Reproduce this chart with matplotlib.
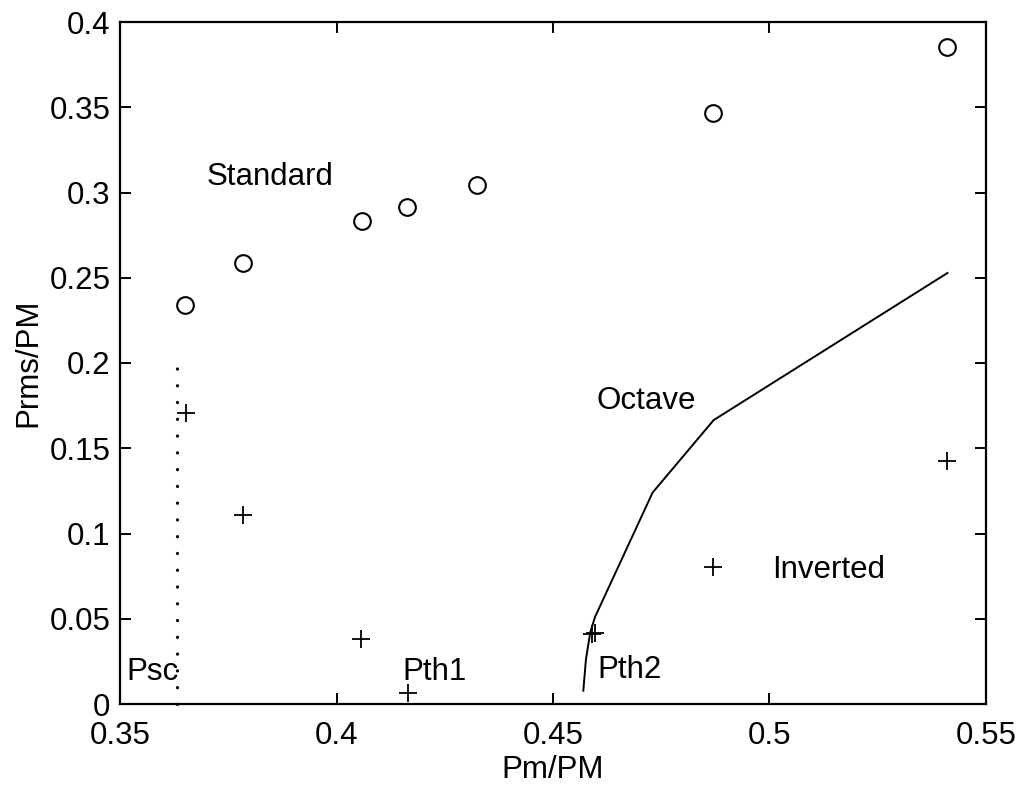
import matplotlib
matplotlib.use("Agg")
from matplotlib import pyplot as plt

plt.rcParams['font.family'] = ['Liberation Sans', 'DejaVu Sans']

# Standard (circles)
std_x = [0.3650, 0.3785, 0.4058, 0.4163, 0.4324, 0.4870, 0.5411]
std_y = [0.2343, 0.2589, 0.2833, 0.2915, 0.3044, 0.3466, 0.3853]

# Inverted (plus markers)
inv_x = [0.3652, 0.3785, 0.4057, 0.4164, 0.4589, 0.4597, 0.4870, 0.5411]
inv_y = [0.1704, 0.1108, 0.0381, 0.0063, 0.0410, 0.0415, 0.0805, 0.1424]

# Octave curve
oct_x = [0.4570, 0.4576, 0.4586, 0.4597, 0.4730, 0.4871, 0.5411]
oct_y = [0.0078, 0.0260, 0.0420, 0.0510, 0.1240, 0.1665, 0.2528]

# Psc threshold
psc_x = 0.3632
psc_y = [0.0, 0.2]

x_ticks = [0.35, 0.4, 0.45, 0.5, 0.55]
y_ticks = [0, 0.05, 0.1, 0.15, 0.2, 0.25, 0.3, 0.35, 0.4]

fig = plt.figure(figsize=(10.24, 7.89), dpi=100)
ax = fig.add_axes([120 / 1024, 85 / 789, 866 / 1024, 682 / 789])

ax.plot(std_x, std_y, 'o', markersize=12, markerfacecolor='none',
        markeredgecolor='black', markeredgewidth=1.5)
ax.plot(inv_x, inv_y, '+', markersize=13, color='black', markeredgewidth=1.3)
ax.plot(oct_x, oct_y, '-', color='black', linewidth=1.4)
ax.plot([psc_x, psc_x], psc_y, color='black', linewidth=2.3,
        dashes=(0.05, 5.2), dash_capstyle='round', clip_on=False)

fs = 22.5
ax.text(0.3700, 0.309, 'Standard', fontsize=fs, va='center')
ax.text(0.4601, 0.178, 'Octave', fontsize=fs, va='center')
ax.text(0.5005, 0.0785, 'Inverted', fontsize=fs, va='center')
ax.text(0.3514, 0.019, 'Psc', fontsize=fs, va='center')
ax.text(0.4153, 0.019, 'Pth1', fontsize=fs, va='center')
ax.text(0.4602, 0.020, 'Pth2', fontsize=fs, va='center')

ax.set_xlim(0.35, 0.55)
ax.set_ylim(0, 0.4)
ax.set_xticks(x_ticks)
ax.set_yticks(y_ticks)
ax.set_xticklabels([f"{v:g}" for v in x_ticks])
ax.set_yticklabels([f"{v:g}" for v in y_ticks])
ax.tick_params(direction='in', length=8, width=1.4, labelsize=fs,
               top=True, right=True)
ax.tick_params(axis='x', pad=12)
ax.tick_params(axis='y', pad=7)
for s in ax.spines.values():
    s.set_linewidth(1.6)

ax.set_xlabel('Pm/PM', fontsize=fs, labelpad=3)
ax.set_ylabel('Prms/PM', fontsize=fs, labelpad=4)

fig.savefig('out.png', dpi=100)
